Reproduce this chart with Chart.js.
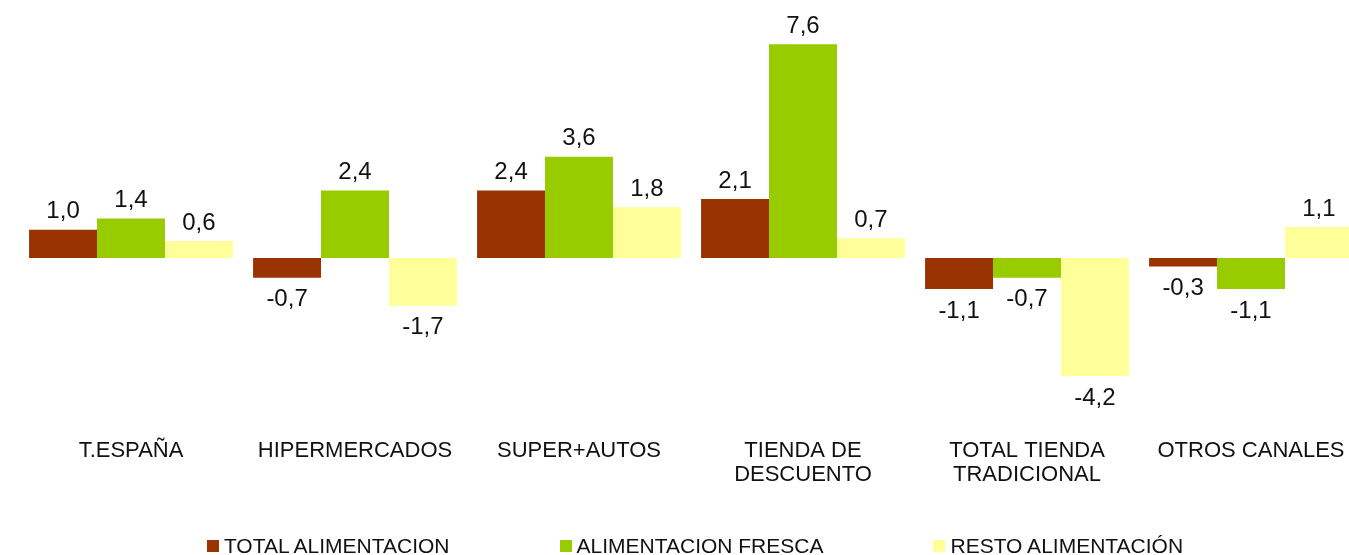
<!DOCTYPE html>
<html>
<head>
<meta charset="utf-8">
<script src="https://cdn.jsdelivr.net/npm/chart.js@4"></script>
<style>
  html, body { margin: 0; padding: 0; background: #fff; overflow: hidden; }
  #wrap { position: relative; width: 1390px; height: 555px; }
  #legend {
    position: absolute; left: 0; top: 534px; width: 1390px;
    display: flex; justify-content: center; gap: 110px;
    font-family: "Liberation Sans", Arial, sans-serif; font-size: 21px; color: #111;
  }
  #legend span.item { display: flex; align-items: center; white-space: nowrap; }
  #legend span.box { display: inline-block; width: 12px; height: 12px; margin-right: 5px; }
</style>
</head>
<body>
<div id="wrap">
  <canvas id="chart" width="1390" height="555"></canvas>
  <div id="legend"></div>
</div>
<script>
const categories = ['T.ESPAÑA', 'HIPERMERCADOS', 'SUPER+AUTOS', ['TIENDA DE', 'DESCUENTO'], ['TOTAL TIENDA', 'TRADICIONAL'], 'OTROS CANALES'];
const seriesNames = ['TOTAL ALIMENTACION', 'ALIMENTACION FRESCA', 'RESTO ALIMENTACIÓN'];
const totalAlimentacion = [1.0, -0.7, 2.4, 2.1, -1.1, -0.3];
const alimentacionFresca = [1.4, 2.4, 3.6, 7.6, -0.7, -1.1];
const restoAlimentacion = [0.6, -1.7, 1.8, 0.7, -4.2, 1.1];
const colors = ['#993300', '#99cc00', '#ffff99'];

const font = '"Liberation Sans", Arial, sans-serif';

// value labels above / below each bar, with comma decimals
const valueLabels = {
    id: 'valueLabels',
    afterDatasetsDraw(chart) {
        const ctx = chart.ctx;
        ctx.save();
        ctx.font = '24px ' + font;
        ctx.fillStyle = '#111';
        ctx.textAlign = 'center';
        chart.data.datasets.forEach((ds, i) => {
            chart.getDatasetMeta(i).data.forEach((bar, j) => {
                const v = ds.data[j];
                const text = v.toFixed(1).replace('.', ',');
                if (v >= 0) {
                    ctx.textBaseline = 'bottom';
                    ctx.fillText(text, bar.x, bar.y - 6);
                } else {
                    ctx.textBaseline = 'top';
                    ctx.fillText(text, bar.x, bar.y + 10);
                }
            });
        });
        ctx.restore();
    }
};

new Chart(document.getElementById('chart'), {
    type: 'bar',
    data: {
        labels: categories,
        datasets: [
            { label: seriesNames[0], data: totalAlimentacion, backgroundColor: colors[0] },
            { label: seriesNames[1], data: alimentacionFresca, backgroundColor: colors[1] },
            { label: seriesNames[2], data: restoAlimentacion, backgroundColor: colors[2] }
        ]
    },
    options: {
        responsive: false,
        animation: false,
        categoryPercentage: 0.91,
        barPercentage: 1.0,
        layout: { padding: { left: 19, right: 27, top: 5, bottom: 64 } },
        plugins: {
            legend: { display: false },
            tooltip: { enabled: false }
        },
        scales: {
            x: {
                grid: { display: false },
                border: { display: false },
                ticks: {
                    color: '#111',
                    padding: 4,
                    maxRotation: 0,
                    autoSkip: false,
                    font: { family: font, size: 22, lineHeight: 1.1 }
                }
            },
            y: {
                display: false,
                min: -6,
                max: 9
            }
        }
    },
    plugins: [valueLabels]
});

const legend = document.getElementById('legend');
seriesNames.forEach((name, i) => {
    const item = document.createElement('span');
    item.className = 'item';
    const box = document.createElement('span');
    box.className = 'box';
    box.style.background = colors[i];
    item.appendChild(box);
    item.appendChild(document.createTextNode(name));
    legend.appendChild(item);
});
</script>
</body>
</html>
